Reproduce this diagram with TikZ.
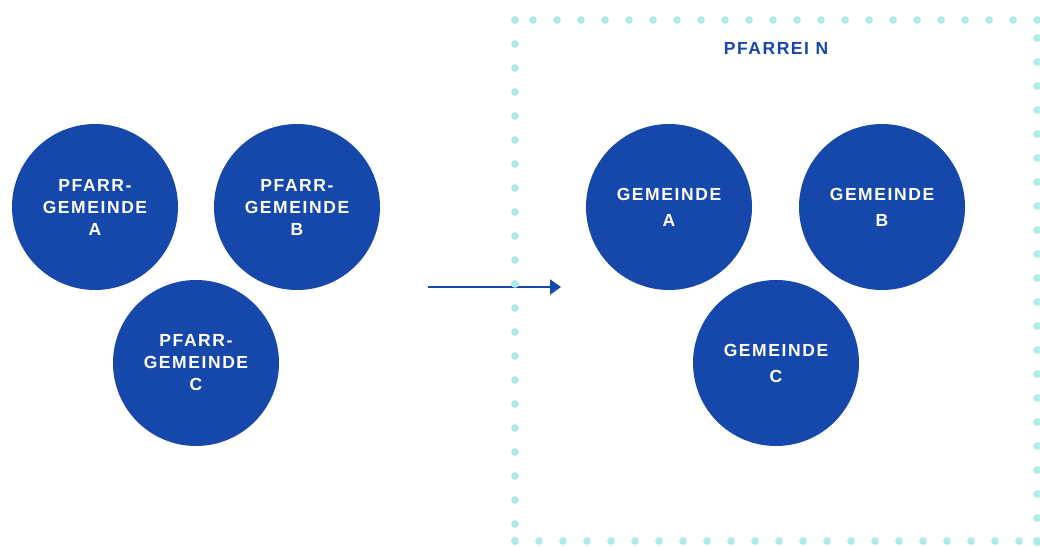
\documentclass[tikz,border=0pt]{standalone}
\usepackage{fontspec}
\setmainfont{Liberation Sans}[LetterSpace=9]
\usetikzlibrary{arrows.meta}
\definecolor{cblue}{HTML}{1647AA}
\definecolor{cdot}{HTML}{AEEAE8}
\tikzset{
  circ/.style={circle, fill=cblue, minimum size=166pt, inner sep=0pt, text=white,
    font=\bfseries\fontsize{17.5}{22}\selectfont, align=center},
  circr/.style={circ, font=\bfseries\fontsize{17.5}{26}\selectfont},
  dotm/.style={fill=cdot},
  title/.style={text=cblue, font=\bfseries\fontsize{17.5}{20}\selectfont, inner sep=0pt},
  arr/.style={draw=cblue, line width=2pt, -{Triangle[length=11pt,width=15pt]}}
}
\begin{document}
\begin{tikzpicture}[x=1pt,y=-1pt]
\useasboundingbox (0,0) rectangle (1040,546);
% dotted frame
\foreach \x in {515,533,557,...,1037} \fill[dotm] (\x,20) circle (3.9);
\foreach \y in {20,44,...,524} \fill[dotm] (515,\y) circle (3.9);
\fill[dotm] (515,541) circle (3.9);
\foreach \x in {515,539,...,1019} \fill[dotm] (\x,541) circle (3.9);
\fill[dotm] (1037,541) circle (3.9);
\foreach \y in {38,62,...,542} \fill[dotm] (1037,\y) circle (3.9);
\node[title] (t) at (776,48) {PFARREI N};
% left circles
\node[circ] (pa) at (95,207) {PFARR-\\GEMEINDE\\A};
\node[circ] (pb) at (297,207) {PFARR-\\GEMEINDE\\B};
\node[circ] (pc) at (196,363) {PFARR-\\GEMEINDE\\C};
% right circles
\node[circr] (ga) at (669,207) {GEMEINDE\\A};
\node[circr] (gb) at (882,207) {GEMEINDE\\B};
\node[circr] (gc) at (776,363) {GEMEINDE\\C};
% arrow
\coordinate (as) at (428,287);
\coordinate (ae) at (561,287);
\draw[arr] (as) -- (ae);
\fill[dotm] (515,284) circle (3.9);
\end{tikzpicture}
\end{document}
